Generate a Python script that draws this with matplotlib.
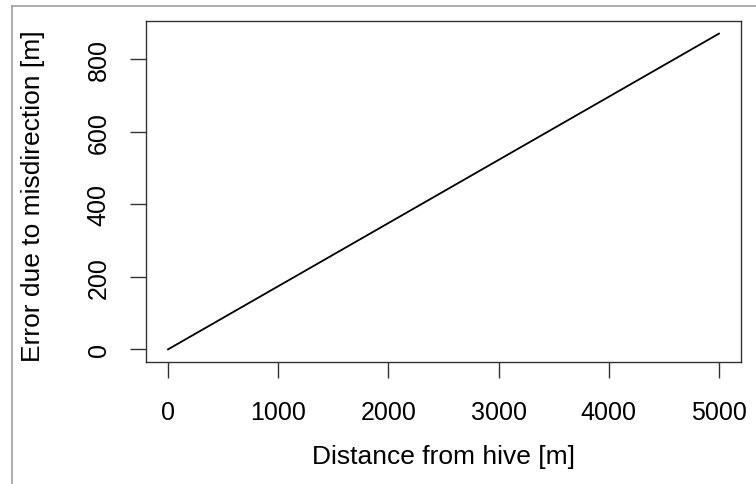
import matplotlib
matplotlib.use("Agg")
import matplotlib.pyplot as plt
from matplotlib.lines import Line2D

# Data
distance = [0, 5000]
error = [0, 870]
xticks = [0, 1000, 2000, 3000, 4000, 5000]
yticks = [0, 200, 400, 600, 800]

plt.rcParams['font.family'] = ['Liberation Sans', 'DejaVu Sans']

W, H = 756, 485
fig = plt.figure(figsize=(W / 100, H / 100), dpi=100)
ax = fig.add_axes([146 / W, (H - 363) / H, (741 - 146) / W, (363 - 22) / H])

ax.plot(distance, error, color='black', linewidth=1.3)

xr = max(distance) - min(distance)
yr = max(error) - min(error)
ax.set_xlim(min(distance) - 0.04 * xr, max(distance) + 0.04 * xr)
ax.set_ylim(min(error) - 0.04 * yr, max(error) + 0.04 * yr)

ax.set_xticks(xticks)
ax.set_yticks(yticks)
ax.set_xticklabels([str(t) for t in xticks])
ax.set_yticklabels([str(t) for t in yticks], rotation=90, va='center')

for s in ax.spines.values():
    s.set_color('#333333')
    s.set_linewidth(1.0)

ax.tick_params(axis='both', length=11.5, width=1.0, color='#333333',
               labelsize=18, labelcolor='black')
ax.tick_params(axis='x', pad=16)
ax.tick_params(axis='y', pad=14)

ax.set_xlabel('Distance from hive [m]', fontsize=19)
ax.set_ylabel('Error due to misdirection [m]', fontsize=19)
ax.xaxis.set_label_coords(0.5, (363 - 445) / 341)
ax.yaxis.set_label_coords((45 - 146) / 595, 0.49)

# Outer gray frame lines (top and left)
fig.add_artist(Line2D([12 / W, 1], [1 - 7 / H, 1 - 7 / H], transform=fig.transFigure,
                      color='#a0a0a0', linewidth=1.2))
fig.add_artist(Line2D([12 / W, 12 / W], [0, 1 - 7 / H], transform=fig.transFigure,
                      color='#a0a0a0', linewidth=1.2))

fig.savefig('out.png', dpi=100)
